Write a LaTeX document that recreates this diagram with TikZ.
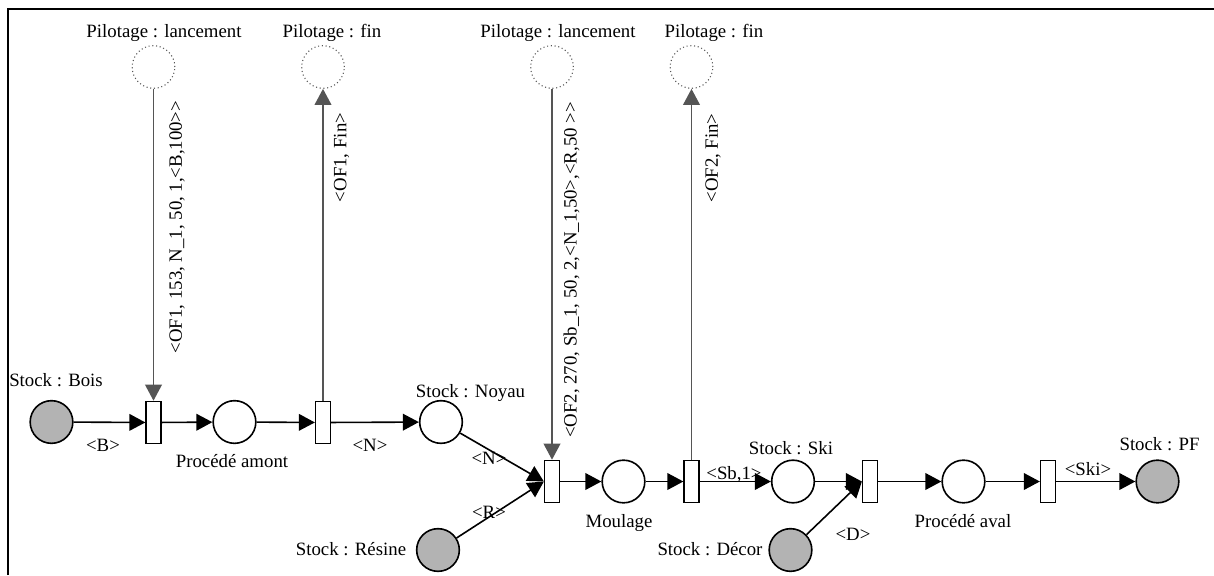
\documentclass[tikz,border=0pt]{standalone}
\usepackage{fontspec}
\setmainfont{Liberation Serif}
\usetikzlibrary{arrows.meta}
\definecolor{placegray}{RGB}{179,179,179}
\definecolor{ctrlgray}{RGB}{85,85,85}
\newcommand{\dblgt}{>\kern0pt>}
\tikzset{
  place/.style={circle,draw,line width=1.2pt,minimum size=32pt,inner sep=0pt},
  stockplace/.style={place,fill=placegray},
  pilotplace/.style={circle,draw=ctrlgray,dotted,line width=0.8pt,minimum size=32pt,inner sep=0pt},
  trans/.style={rectangle,draw,line width=1.2pt,minimum width=11pt,minimum height=31.5pt,inner sep=0pt,fill=white},
  lbl/.style={inner sep=0pt,font=\fontsize{14.1}{16}\selectfont},
  arc/.style={line width=1.2pt,-{Triangle[length=12pt,width=12.5pt]}},
  ctrl/.style={draw=ctrlgray,line width=1.2pt,-{Triangle[length=12pt,width=12.5pt]},color=ctrlgray},
}
\begin{document}
\begin{tikzpicture}[x=0.75pt,y=-0.75pt]
\useasboundingbox (0,0) rectangle (1214,575);
% frame
\coordinate (fa) at (8,575);
\coordinate (fb) at (8,9);
\coordinate (fc) at (1214,9);
\draw[line width=1.4pt] (fa) -- (fb) -- (fc);

% places
\node[stockplace] (sb) at (51.5,422) {};
\node[place] (pa) at (234.5,422) {};
\node[place] (sn) at (441,422) {};
\node[place] (mo) at (623.5,481.5) {};
\node[place] (ski) at (793,481.5) {};
\node[stockplace] (sr) at (438,550) {};
\node[stockplace] (sd) at (790.5,550) {};
\node[place] (pav) at (963.5,481.5) {};
\node[stockplace] (pf) at (1157.5,481.5) {};

% transitions
\node[trans] (t1) at (153.5,422.5) {};
\node[trans] (t2) at (323,422.5) {};
\node[trans] (t3) at (552,481.5) {};
\node[trans] (t4) at (691.5,481.5) {};
\node[trans] (t5) at (870,481.5) {};
\node[trans] (t6) at (1048,481.5) {};

% pilot places
\node[pilotplace] (p1) at (153.5,67) {};
\node[pilotplace] (p2) at (323,67) {};
\node[pilotplace] (p3) at (552,67) {};
\node[pilotplace] (p4) at (691.5,67) {};

% arcs
\draw[arc] (sb) -- (t1);
\draw[arc] (t1) -- (pa);
\draw[arc] (pa) -- (t2);
\draw[arc] (t2) -- (sn);
\draw[arc] (sn) -- (t3.west);
\draw[arc] (sr) -- (t3.west);
\draw[arc] (t3) -- (mo);
\draw[arc] (mo) -- (t4);
\draw[arc] (t4) -- (ski);
\draw[arc] (ski) -- (t5);
\draw[arc] (sd) -- (t5.west);
\draw[arc] (t5) -- (pav);
\draw[arc] (pav) -- (t6);
\draw[arc] (t6) -- (pf);

% control arcs
\draw[ctrl] (p1) -- (t1);
\draw[ctrl] (t2) -- (p2);
\draw[ctrl] (p3) -- (t3);
\draw[ctrl] (t4) -- (p4);

% labels
\node[lbl] (lsb) at (56,380) {Stock : Bois};
\node[lbl] (lB) at (103,445) {<B>};
\node[lbl] (lpa) at (232,461) {Procédé amont};
\node[lbl] (lN1) at (370,445) {<N>};
\node[lbl] (lsn) at (470.5,393) {Stock : Noyau};
\node[lbl] (lN2) at (489,458) {<N>};
\node[lbl] (lR) at (489,512) {<R>};
\node[lbl] (lsr) at (351,549) {Stock : Résine};
\node[lbl] (lmo) at (619,523) {Moulage};
\node[lbl] (lSb) at (734,474) {<Sb,1>};
\node[lbl] (lski) at (791,448) {Stock : Ski};
\node[lbl] (lsd) at (710,549) {Stock : Décor};
\node[lbl] (lD) at (853,534) {<D>};
\node[lbl] (lpav) at (963,521) {Procédé aval};
\node[lbl] (lSki) at (1088,469) {<Ski>};
\node[lbl] (lpf) at (1159.5,444) {Stock : PF};

\node[lbl] (lp1) at (164,33) {Pilotage : lancement};
\node[lbl] (lp2) at (332,33) {Pilotage : fin};
\node[lbl] (lp3) at (558,33) {Pilotage : lancement};
\node[lbl] (lp4) at (714,33) {Pilotage : fin};

\node[lbl,rotate=90] (c1) at (177,227) {<OF1, 153, N\_1, 50, 1,<B,100\dblgt};
\node[lbl,rotate=90] (c2) at (341.5,157.5) {<OF1, Fin>};
\node[lbl,rotate=90] (c3) at (571.5,270) {<OF2, 270, Sb\_1, 50, 2,<N\_1,50>,<R,50 \dblgt};
\node[lbl,rotate=90] (c4) at (713,158) {<OF2, Fin>};
\end{tikzpicture}
\end{document}
